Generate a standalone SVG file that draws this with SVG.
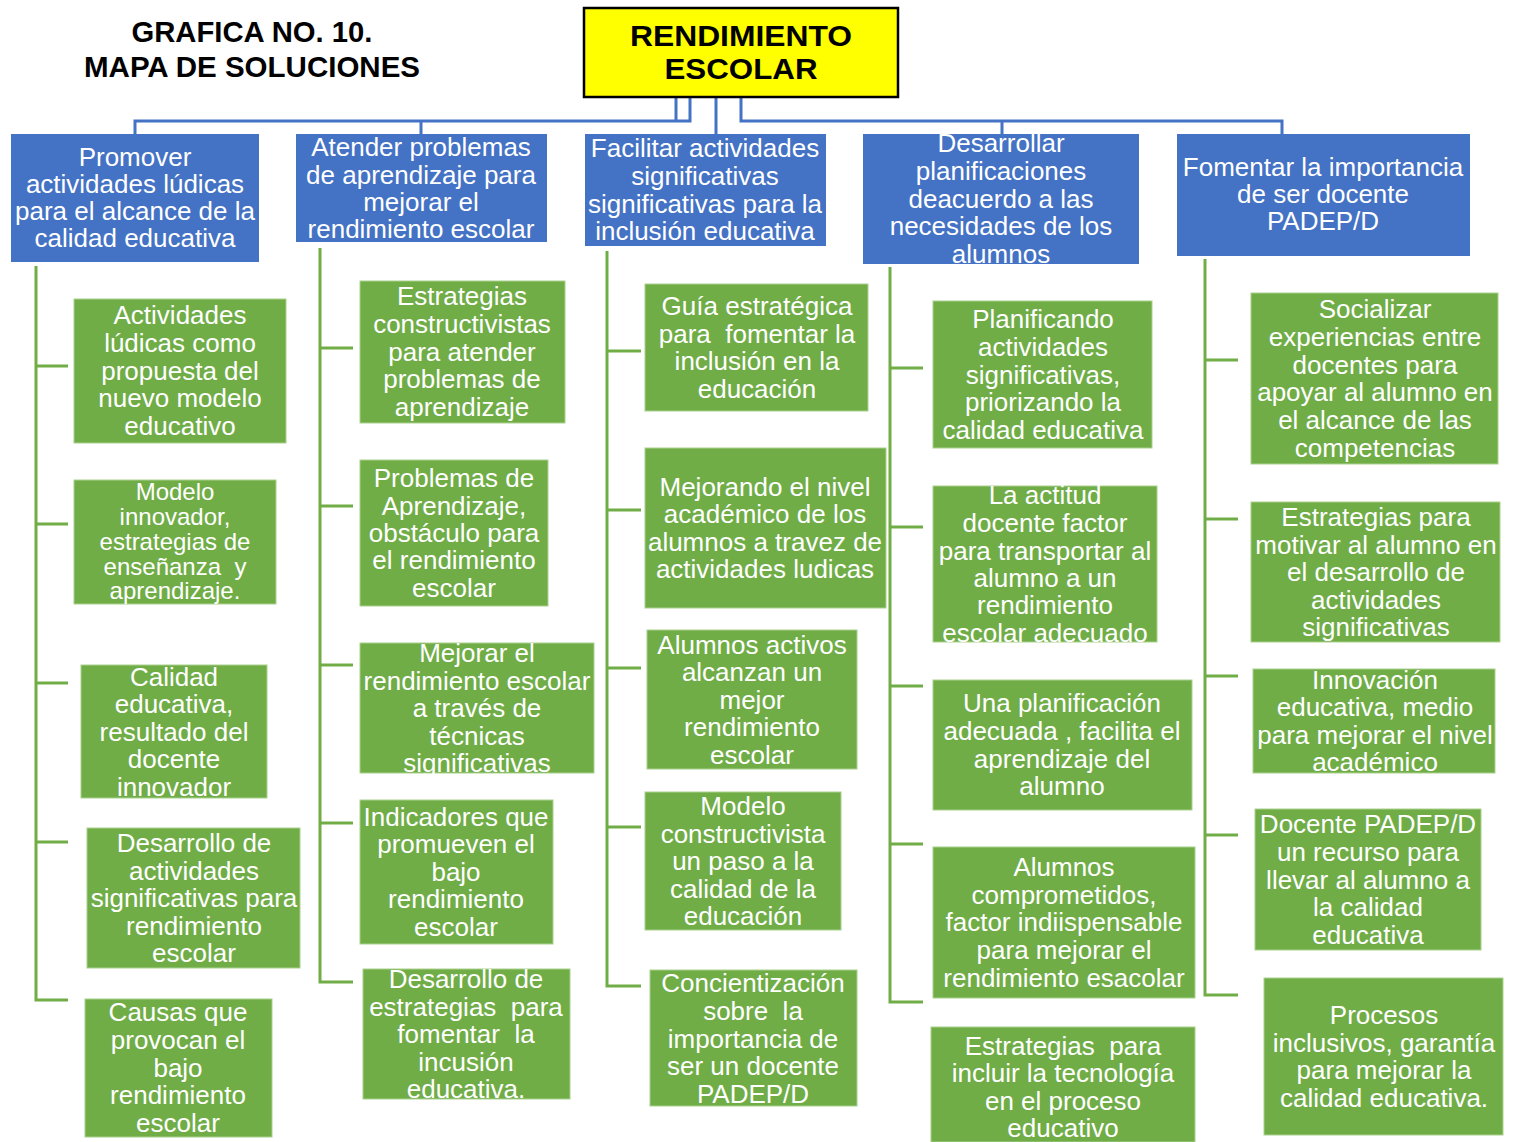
<svg xmlns="http://www.w3.org/2000/svg" width="1513" height="1142" viewBox="0 0 1513 1142">
<style>
.bg{fill:#ffffff}
.blue{fill:#4472C4}
.green{fill:#70AD47;stroke:#A9D18E;stroke-width:1}
.t{font-family:"Liberation Sans",Arial,sans-serif;font-size:26px;fill:#ffffff;text-anchor:middle;white-space:pre}
.ts{font-size:24px}
.title{font-family:"Liberation Sans",Arial,sans-serif;font-weight:bold;fill:#000000;text-anchor:middle}
.bc{fill:none;stroke:#4472C4;stroke-width:3}
.gc{fill:none;stroke:#70AD47;stroke-width:3}
</style>
<rect class="bg" x="0" y="0" width="1513" height="1142"/>
<g id="title">
<text class="title" x="252" y="42" font-size="30" textLength="241" lengthAdjust="spacingAndGlyphs">GRAFICA NO. 10.</text>
<text class="title" x="252" y="77" font-size="30" textLength="336" lengthAdjust="spacingAndGlyphs">MAPA DE SOLUCIONES</text>
</g>
<g id="connectors">
<path class="bc" d="M676 97 V121 M690 97 V121 H135 V134 M421 121 V134 M716 97 V134 M741 97 V121 H1282 V134 M1002 121 V134"/>
<path class="gc" d="M36 266 V1000 H68 M36 366 H68 M36 524 H68 M36 683 H68 M36 842 H68"/>
<path class="gc" d="M320 248 V982 H353 M320 348 H353 M320 506 H353 M320 665 H353 M320 823 H353"/>
<path class="gc" d="M607 251 V986 H641 M607 351 H641 M607 510 H641 M607 668 H641 M607 827 H641"/>
<path class="gc" d="M890 267 V1002 H923 M890 368 H923 M890 527 H923 M890 686 H923 M890 844 H923"/>
<path class="gc" d="M1205 259 V995 H1238 M1205 360 H1238 M1205 519 H1238 M1205 676 H1238 M1205 835 H1238"/>
</g>
<g id="root">
<rect x="584" y="8" width="314" height="89" fill="#FFFF00" stroke="#000000" stroke-width="2.5"/>
<text class="title" x="741" y="46" font-size="29" textLength="222" lengthAdjust="spacingAndGlyphs">RENDIMIENTO</text>
<text class="title" x="741" y="79" font-size="29" textLength="153" lengthAdjust="spacingAndGlyphs">ESCOLAR</text>
</g>
<g id="b1">
<rect class="blue" x="11" y="134" width="248" height="128"/>
<text class="t" x="135" y="166">Promover</text>
<text class="t" x="135" y="193">actividades lúdicas</text>
<text class="t" x="135" y="220">para el alcance de la</text>
<text class="t" x="135" y="247">calidad educativa</text>
</g>
<g id="b2">
<rect class="blue" x="296" y="134" width="251" height="108"/>
<text class="t" x="421" y="156">Atender problemas</text>
<text class="t" x="421" y="184">de aprendizaje para</text>
<text class="t" x="421" y="211">mejorar el</text>
<text class="t" x="421" y="238">rendimiento escolar</text>
</g>
<g id="b3">
<rect class="blue" x="585" y="134" width="241" height="112"/>
<text class="t" x="705" y="157">Facilitar actividades</text>
<text class="t" x="705" y="185">significativas</text>
<text class="t" x="705" y="213">significativas para la</text>
<text class="t" x="705" y="240">inclusión educativa</text>
</g>
<g id="b4">
<rect class="blue" x="863" y="134" width="276" height="130"/>
<text class="t" x="1001" y="152">Desarrollar</text>
<text class="t" x="1001" y="180">planificaciones</text>
<text class="t" x="1001" y="208">deacuerdo a las</text>
<text class="t" x="1001" y="235">necesidades de los</text>
<text class="t" x="1001" y="263">alumnos</text>
</g>
<g id="b5">
<rect class="blue" x="1177" y="134" width="293" height="122"/>
<text class="t" x="1323" y="176">Fomentar la importancia</text>
<text class="t" x="1323" y="203">de ser docente</text>
<text class="t" x="1323" y="230">PADEP/D</text>
</g>
<g id="g11">
<rect class="green" x="74" y="299" width="212" height="144"/>
<text class="t" x="180" y="324">Actividades</text>
<text class="t" x="180" y="352">lúdicas como</text>
<text class="t" x="180" y="380">propuesta del</text>
<text class="t" x="180" y="407">nuevo modelo</text>
<text class="t" x="180" y="435">educativo</text>
</g>
<g id="g12">
<rect class="green" x="74" y="480" width="202" height="124"/>
<text class="t ts" x="175" y="500">Modelo</text>
<text class="t ts" x="175" y="525">innovador,</text>
<text class="t ts" x="175" y="550">estrategias de</text>
<text class="t ts" x="175" y="575">enseñanza  y</text>
<text class="t ts" x="175" y="599">aprendizaje.</text>
</g>
<g id="g13">
<rect class="green" x="81" y="665" width="186" height="133"/>
<text class="t" x="174" y="686">Calidad</text>
<text class="t" x="174" y="713">educativa,</text>
<text class="t" x="174" y="741">resultado del</text>
<text class="t" x="174" y="768">docente</text>
<text class="t" x="174" y="796">innovador</text>
</g>
<g id="g14">
<rect class="green" x="87" y="828" width="213" height="140"/>
<text class="t" x="194" y="852">Desarrollo de</text>
<text class="t" x="194" y="880">actividades</text>
<text class="t" x="194" y="907">significativas para</text>
<text class="t" x="194" y="935">rendimiento</text>
<text class="t" x="194" y="962">escolar</text>
</g>
<g id="g15">
<rect class="green" x="85" y="999" width="187" height="138"/>
<text class="t" x="178" y="1021">Causas que</text>
<text class="t" x="178" y="1049">provocan el</text>
<text class="t" x="178" y="1077">bajo</text>
<text class="t" x="178" y="1104">rendimiento</text>
<text class="t" x="178" y="1132">escolar</text>
</g>
<g id="g21">
<rect class="green" x="360" y="281" width="205" height="142"/>
<text class="t" x="462" y="305">Estrategias</text>
<text class="t" x="462" y="333">constructivistas</text>
<text class="t" x="462" y="361">para atender</text>
<text class="t" x="462" y="388">problemas de</text>
<text class="t" x="462" y="416">aprendizaje</text>
</g>
<g id="g22">
<rect class="green" x="360" y="460" width="188" height="146"/>
<text class="t" x="454" y="487">Problemas de</text>
<text class="t" x="454" y="515">Aprendizaje,</text>
<text class="t" x="454" y="542">obstáculo para</text>
<text class="t" x="454" y="569">el rendimiento</text>
<text class="t" x="454" y="597">escolar</text>
</g>
<g id="g23">
<rect class="green" x="360" y="643" width="234" height="130"/>
<text class="t" x="477" y="662">Mejorar el</text>
<text class="t" x="477" y="690">rendimiento escolar</text>
<text class="t" x="477" y="717">a través de</text>
<text class="t" x="477" y="745">técnicas</text>
<text class="t" x="477" y="772">significativas</text>
</g>
<g id="g24">
<rect class="green" x="360" y="800" width="193" height="144"/>
<text class="t" x="456" y="826">Indicadores que</text>
<text class="t" x="456" y="853">promueven el</text>
<text class="t" x="456" y="881">bajo</text>
<text class="t" x="456" y="908">rendimiento</text>
<text class="t" x="456" y="936">escolar</text>
</g>
<g id="g25">
<rect class="green" x="363" y="969" width="207" height="130"/>
<text class="t" x="466" y="988">Desarrollo de</text>
<text class="t" x="466" y="1016">estrategias  para</text>
<text class="t" x="466" y="1043">fomentar  la</text>
<text class="t" x="466" y="1071">incusión</text>
<text class="t" x="466" y="1098">educativa.</text>
</g>
<g id="g31">
<rect class="green" x="645" y="284" width="223" height="127"/>
<text class="t" x="757" y="315">Guía estratégica</text>
<text class="t" x="757" y="343">para  fomentar la</text>
<text class="t" x="757" y="370">inclusión en la</text>
<text class="t" x="757" y="398">educación</text>
</g>
<g id="g32">
<rect class="green" x="645" y="448" width="241" height="160"/>
<text class="t" x="765" y="496">Mejorando el nivel</text>
<text class="t" x="765" y="523">académico de los</text>
<text class="t" x="765" y="551">alumnos a travez de</text>
<text class="t" x="765" y="578">actividades ludicas</text>
</g>
<g id="g33">
<rect class="green" x="647" y="630" width="210" height="139"/>
<text class="t" x="752" y="654">Alumnos activos</text>
<text class="t" x="752" y="681">alcanzan un</text>
<text class="t" x="752" y="709">mejor</text>
<text class="t" x="752" y="736">rendimiento</text>
<text class="t" x="752" y="764">escolar</text>
</g>
<g id="g34">
<rect class="green" x="645" y="792" width="196" height="138"/>
<text class="t" x="743" y="815">Modelo</text>
<text class="t" x="743" y="843">constructivista</text>
<text class="t" x="743" y="870">un paso a la</text>
<text class="t" x="743" y="898">calidad de la</text>
<text class="t" x="743" y="925">educación</text>
</g>
<g id="g35">
<rect class="green" x="650" y="970" width="207" height="136"/>
<text class="t" x="753" y="992">Concientización</text>
<text class="t" x="753" y="1020">sobre  la</text>
<text class="t" x="753" y="1048">importancia de</text>
<text class="t" x="753" y="1075">ser un docente</text>
<text class="t" x="753" y="1103">PADEP/D</text>
</g>
<g id="g41">
<rect class="green" x="933" y="301" width="219" height="147"/>
<text class="t" x="1043" y="328">Planificando</text>
<text class="t" x="1043" y="356">actividades</text>
<text class="t" x="1043" y="384">significativas,</text>
<text class="t" x="1043" y="411">priorizando la</text>
<text class="t" x="1043" y="439">calidad educativa</text>
</g>
<g id="g42">
<rect class="green" x="933" y="486" width="224" height="156"/>
<text class="t" x="1045" y="504">La actitud</text>
<text class="t" x="1045" y="532">docente factor</text>
<text class="t" x="1045" y="560">para transportar al</text>
<text class="t" x="1045" y="587">alumno a un</text>
<text class="t" x="1045" y="614">rendimiento</text>
<text class="t" x="1045" y="642">escolar adecuado</text>
</g>
<g id="g43">
<rect class="green" x="933" y="680" width="259" height="130"/>
<text class="t" x="1062" y="712">Una planificación</text>
<text class="t" x="1062" y="740">adecuada , facilita el</text>
<text class="t" x="1062" y="768">aprendizaje del</text>
<text class="t" x="1062" y="795">alumno</text>
</g>
<g id="g44">
<rect class="green" x="933" y="847" width="262" height="151"/>
<text class="t" x="1064" y="876">Alumnos</text>
<text class="t" x="1064" y="904">comprometidos,</text>
<text class="t" x="1064" y="931">factor indiispensable</text>
<text class="t" x="1064" y="959">para mejorar el</text>
<text class="t" x="1064" y="987">rendimiento esacolar</text>
</g>
<g id="g45">
<rect class="green" x="931" y="1027" width="264" height="115"/>
<text class="t" x="1063" y="1055">Estrategias  para</text>
<text class="t" x="1063" y="1082">incluir la tecnología</text>
<text class="t" x="1063" y="1110">en el proceso</text>
<text class="t" x="1063" y="1137">educativo</text>
</g>
<g id="g51">
<rect class="green" x="1251" y="293" width="247" height="171"/>
<text class="t" x="1375" y="318">Socializar</text>
<text class="t" x="1375" y="346">experiencias entre</text>
<text class="t" x="1375" y="374">docentes para</text>
<text class="t" x="1375" y="401">apoyar al alumno en</text>
<text class="t" x="1375" y="429">el alcance de las</text>
<text class="t" x="1375" y="457">competencias</text>
</g>
<g id="g52">
<rect class="green" x="1251" y="502" width="249" height="140"/>
<text class="t" x="1376" y="526">Estrategias para</text>
<text class="t" x="1376" y="554">motivar al alumno en</text>
<text class="t" x="1376" y="581">el desarrollo de</text>
<text class="t" x="1376" y="609">actividades</text>
<text class="t" x="1376" y="636">significativas</text>
</g>
<g id="g53">
<rect class="green" x="1253" y="669" width="242" height="104"/>
<text class="t" x="1375" y="689">Innovación</text>
<text class="t" x="1375" y="716">educativa, medio</text>
<text class="t" x="1375" y="744">para mejorar el nivel</text>
<text class="t" x="1375" y="771">académico</text>
</g>
<g id="g54">
<rect class="green" x="1255" y="809" width="226" height="141"/>
<text class="t" x="1368" y="833">Docente PADEP/D</text>
<text class="t" x="1368" y="861">un recurso para</text>
<text class="t" x="1368" y="889">llevar al alumno a</text>
<text class="t" x="1368" y="916">la calidad</text>
<text class="t" x="1368" y="944">educativa</text>
</g>
<g id="g55">
<rect class="green" x="1264" y="978" width="239" height="157"/>
<text class="t" x="1384" y="1024">Procesos</text>
<text class="t" x="1384" y="1052">inclusivos, garantía</text>
<text class="t" x="1384" y="1079">para mejorar la</text>
<text class="t" x="1384" y="1107">calidad educativa.</text>
</g>
</svg>
